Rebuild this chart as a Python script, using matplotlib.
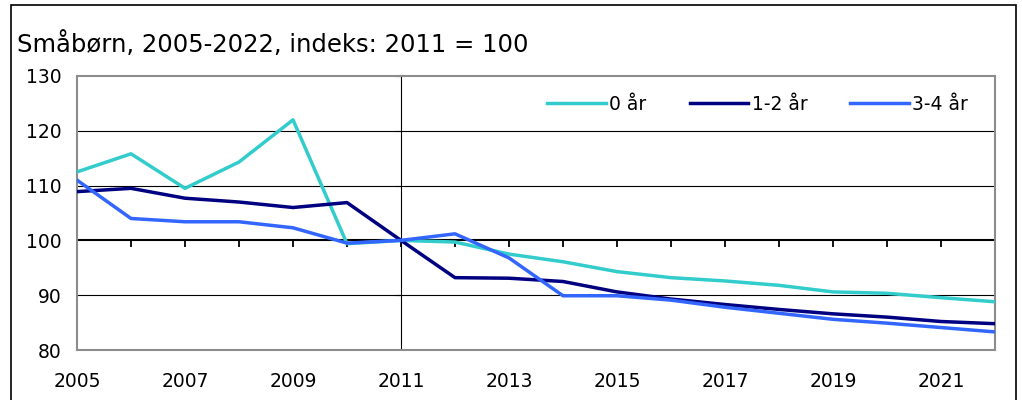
import matplotlib
matplotlib.use("Agg")
import matplotlib.pyplot as plt
from matplotlib.patches import Rectangle

years = list(range(2005, 2023))
age0 = [112.5, 115.8, 109.5, 114.3, 122.0, 99.4, 100.0, 99.7, 97.5, 96.1,
        94.3, 93.2, 92.6, 91.8, 90.6, 90.35, 89.55, 88.8]
age12 = [108.9, 109.5, 107.7, 107.0, 106.0, 106.9, 100.0, 93.2, 93.1, 92.5,
         90.6, 89.3, 88.3, 87.4, 86.6, 86.0, 85.2, 84.8]
age34 = [111.0, 104.0, 103.4, 103.4, 102.3, 99.5, 100.0, 101.2, 96.8, 89.9,
         89.9, 89.1, 87.8, 86.7, 85.6, 84.9, 84.1, 83.3]
labels = ['0 år', '1-2 år', '3-4 år']
colors = ['#33CCCC', '#000080', '#3366FF']
yticks = [80, 90, 100, 110, 120, 130]
xticks = list(range(2005, 2022, 2))
title = 'Småbørn, 2005-2022, indeks: 2011 = 100'

plt.rcParams['font.family'] = ['DejaVu Sans']

fig = plt.figure(figsize=(10.22, 4.0), dpi=100)
ax = fig.add_axes([77/1022, 50/400, 918/1022, 274/400])

# outer frame of the chart
fig.patches.append(Rectangle((11/1022, -0.05), 1005/1022, 1.0 - 5/400 + 0.05,
                             transform=fig.transFigure, fill=False,
                             edgecolor='black', linewidth=1.2))

fig.text(17/1022, 1 - 44/400, title, fontsize=17.5, va='center', ha='left')

for v in [90, 110, 120]:
    ax.axhline(v, color='black', lw=0.8, zorder=1)
ax.axhline(100, color='black', lw=1.5, zorder=1)
ax.axvline(2011, color='black', lw=0.8, zorder=1)
ax.plot(years, [100]*len(years), ls='none', marker=3, ms=5, mew=1.3,
        color='black', zorder=1)
ax.plot([2011]*len(yticks), yticks, ls='none', marker=0, ms=4, mew=0.8,
        color='black', zorder=1)

for data, lab, col in zip([age0, age12, age34], labels, colors):
    ax.plot(years, data, color=col, lw=2.5, label=lab, zorder=3)

ax.set_xlim(2005, 2022)
ax.set_ylim(80, 130)
ax.set_xticks(xticks)
ax.set_yticks(yticks)
ax.tick_params(axis='both', length=0, labelsize=13.5)
ax.tick_params(axis='x', pad=16)
ax.tick_params(axis='y', pad=11)
for s in ax.spines.values():
    s.set_color('#8c8c8c')
    s.set_linewidth(1.5)

ax.legend(loc='center right', bbox_to_anchor=(0.979, 1 - 28/274), ncol=3,
          frameon=False, fontsize=13.5, handlelength=3.1, handletextpad=0.2,
          columnspacing=2.3, borderaxespad=0)

fig.savefig('out.png', dpi=100)
